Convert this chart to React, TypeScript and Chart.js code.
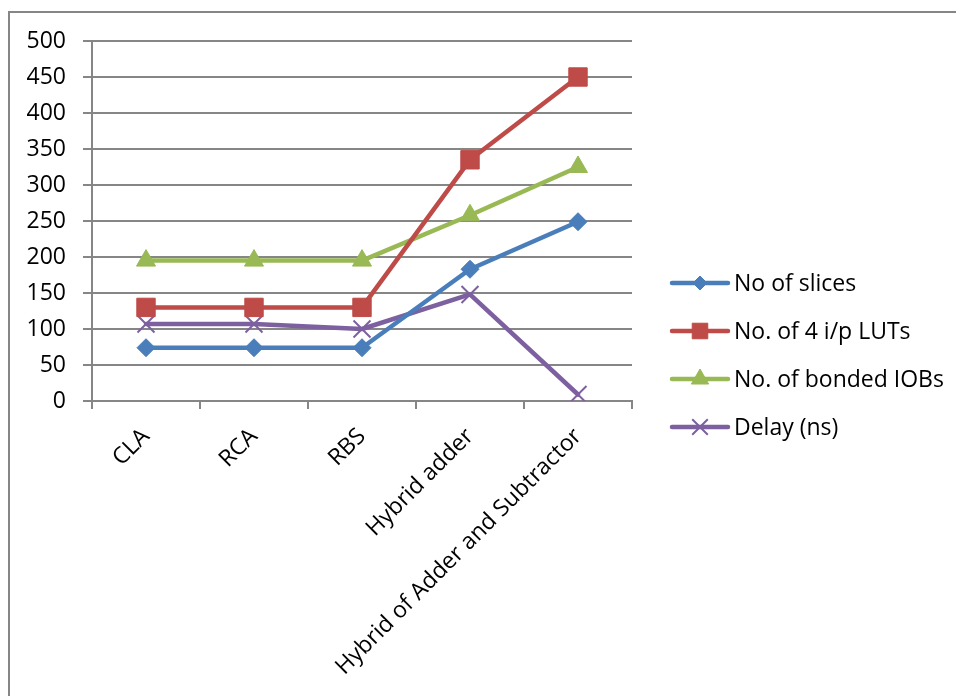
import React, { useEffect, useRef } from 'react';
import { Chart, registerables } from 'chart.js';
import { drawPoint } from 'chart.js/helpers';

Chart.register(...registerables);

const categories = ['CLA', 'RCA', 'RBS', 'Hybrid adder', 'Hybrid of Adder and Subtractor'];
const slices = [74, 74, 74, 183, 249];
const luts = [130, 130, 130, 335, 450];
const iobs = [195, 195, 195, 258, 325];
const delay = [107, 107, 100, 148, 9];
const seriesNames = ['No of slices', 'No. of 4 i/p LUTs', 'No. of bonded IOBs', 'Delay (ns)'];
const seriesColors = ['#4A7EBB', '#BE4B48', '#98B954', '#7D60A0'];
const seriesMarkers = ['rectRot', 'rect', 'triangle', 'crossRot'];
const markerRadius = [9, 13, 11, 12];
const legendMarkerRadius = [7, 11, 10, 11];
const yMin = 0;
const yMax = 500;
const yStep = 50;

const FONT = '"Open Sans", sans-serif';
const FONT_SIZE = 23;
const GRID = '#868686';

const legendPlugin = {
  id: 'excelLegend',
  afterDraw(chart: any) {
    const ctx = chart.ctx;
    const x0 = 672;
    const x1 = 728;
    const tx = 734;
    chart.data.datasets.forEach((ds: any, i: number) => {
      const y = 283 + i * 48;
      ctx.save();
      ctx.strokeStyle = ds.borderColor;
      ctx.lineWidth = ds.borderWidth;
      ctx.lineCap = 'round';
      ctx.beginPath();
      ctx.moveTo(x0, y);
      ctx.lineTo(x1, y);
      ctx.stroke();
      ctx.fillStyle = ds.pointBackgroundColor;
      ctx.strokeStyle = ds.pointBorderColor;
      ctx.lineWidth = ds.pointBorderWidth;
      ctx.lineCap = 'butt';
      drawPoint(
        ctx,
        { pointStyle: ds.pointStyle, radius: legendMarkerRadius[i], rotation: 0, borderWidth: ds.pointBorderWidth } as any,
        (x0 + x1) / 2,
        y
      );
      ctx.fillStyle = '#000';
      ctx.font = `${FONT_SIZE}px ${FONT}`;
      ctx.textBaseline = 'middle';
      ctx.textAlign = 'left';
      ctx.fillText(ds.label, tx, y + 1);
      ctx.restore();
    });
  },
};

export default function App() {
  const ref = useRef<HTMLCanvasElement | null>(null);

  useEffect(() => {
    if (!ref.current) return;
    const values = [slices, luts, iobs, delay];
    const chart = new Chart(ref.current, {
      type: 'line',
      data: {
        labels: categories,
        datasets: values.map((v, i) => ({
          label: seriesNames[i],
          data: v,
          borderColor: seriesColors[i],
          backgroundColor: seriesColors[i],
          borderWidth: 4.5,
          borderCapStyle: 'round',
          borderJoinStyle: 'round',
          pointStyle: seriesMarkers[i],
          pointRadius: markerRadius[i],
          pointHoverRadius: markerRadius[i],
          pointBackgroundColor: seriesColors[i],
          pointBorderColor: seriesColors[i],
          pointBorderWidth: i === 3 ? 2 : 1,
          tension: 0,
          fill: false,
        })),
      } as any,
      options: {
        animation: false,
        responsive: false,
        maintainAspectRatio: false,
        layout: { padding: { top: 41, left: 0, right: 324, bottom: 0 } },
        plugins: {
          legend: { display: false },
          tooltip: { enabled: false },
        },
        scales: {
          x: {
            offset: true,
            afterFit: (scale: any) => {
              scale.height = 295;
            },
            grid: {
              offset: true,
              drawOnChartArea: false,
              drawTicks: true,
              tickLength: 8,
              color: GRID,
              lineWidth: 2,
            },
            border: { display: true, color: GRID, width: 2 },
            ticks: {
              autoSkip: false,
              minRotation: 45,
              maxRotation: 45,
              padding: 14,
              color: '#000',
              font: { family: FONT, size: FONT_SIZE },
            },
          },
          y: {
            min: yMin,
            max: yMax,
            afterFit: (scale: any) => {
              scale.width = 92;
            },
            grid: {
              color: GRID,
              lineWidth: 2,
              drawTicks: true,
              tickLength: 9,
            },
            border: { display: true, color: GRID, width: 2 },
            ticks: {
              stepSize: yStep,
              padding: 17,
              color: '#000',
              font: { family: FONT, size: FONT_SIZE },
            },
          },
        },
      } as any,
      plugins: [legendPlugin],
    });
    return () => chart.destroy();
  }, []);

  return (
    <div
      style={{
        position: 'fixed',
        left: 0,
        top: 0,
        width: 956,
        height: 696,
        overflow: 'hidden',
        background: '#fff',
      }}
    >
      <div
        style={{
          position: 'absolute',
          left: 8,
          top: 11,
          width: 1000,
          height: 800,
          border: `2px solid ${GRID}`,
          boxSizing: 'border-box',
        }}
      />
      <canvas
        ref={ref}
        width={956}
        height={696}
        style={{ position: 'absolute', left: 0, top: 0, width: 956, height: 696 }}
      />
    </div>
  );
}
